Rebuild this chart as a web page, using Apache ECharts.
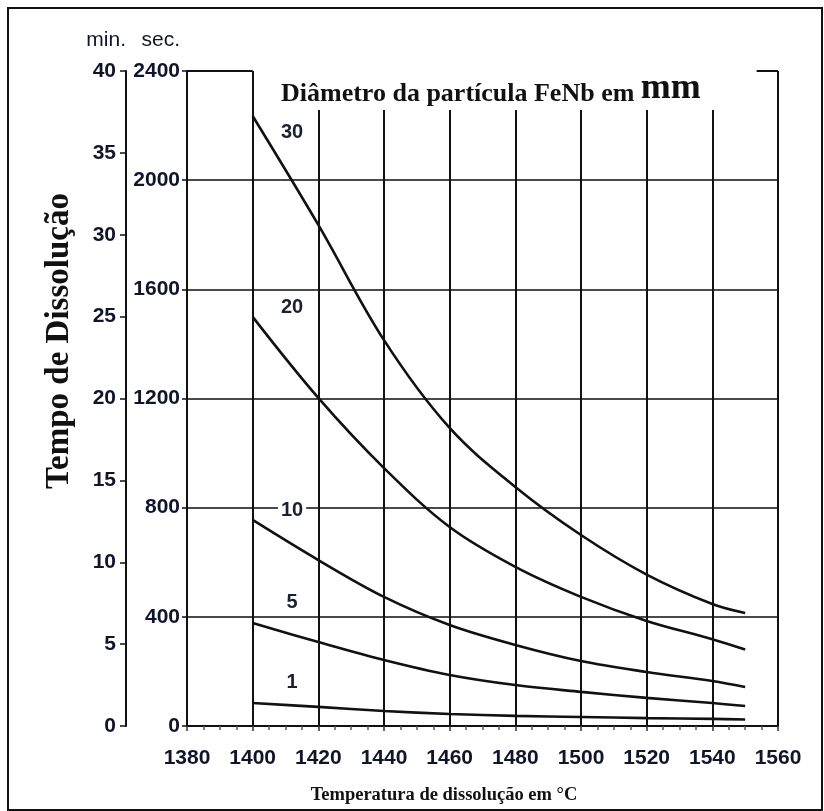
<!DOCTYPE html>
<html>
<head>
<meta charset="utf-8">
<script src="https://cdn.jsdelivr.net/npm/echarts@6/dist/echarts.min.js"></script>
<style>
  html, body { margin: 0; padding: 0; background: #fff; }
  #chart { width: 824px; height: 811px; }
</style>
</head>
<body>
<div id="chart"></div>
<script>
// Dissolution time of FeNb particles versus melt temperature
const temperatures = [1400, 1420, 1440, 1460, 1480, 1500, 1520, 1540, 1550];
const diameters = ['30', '20', '10', '5', '1'];
const time30 = [2235, 1836, 1414, 1092, 876, 700, 555, 447, 414];
const time20 = [1499, 1202, 945, 729, 583, 473, 385, 318, 280];
const time10 = [755, 608, 473, 370, 297, 238, 198, 165, 143];
const time5 = [377, 308, 242, 187, 150, 125, 103, 84, 73];
const time1 = [84, 70, 55, 44, 37, 33, 29, 26, 24];
const tempTicks = [1380, 1400, 1420, 1440, 1460, 1480, 1500, 1520, 1540, 1560];
const secTicks = [0, 400, 800, 1200, 1600, 2000, 2400];
const minTicks = [0, 5, 10, 15, 20, 25, 30, 35, 40];

const seriesTimes = [time30, time20, time10, time5, time1];

const SANS = "'Liberation Sans', Arial, sans-serif";
const SERIF = "'Liberation Serif', 'Times New Roman', serif";
const INK = '#111';
const LABEL_INK = '#10152a';

const chart = echarts.init(document.getElementById('chart'), null, { renderer: 'canvas' });

// where each diameter tag sits along its curve (temperature, seconds)
const tagTemp = 1412;
const tagSec = { '30': 2176, '20': 1532, '10': 791, '5': 451, '1': 158 };

const step = (arr) => arr[1] - arr[0];
const plain = (v) => String(v);

// vertical rules: short ones under the heading, full-height at 1400 and 1560
const ruleTop = 2257;
const yMax = secTicks[secTicks.length - 1];
const xMin = tempTicks[0];
const xMax = tempTicks[tempTicks.length - 1];
const gridRules = [];
for (let t = tempTicks[2]; t < xMax; t += step(tempTicks)) {
  gridRules.push([{ coord: [t, 0] }, { coord: [t, ruleTop] }]);
}
gridRules.push([{ coord: [tempTicks[1], 0] }, { coord: [tempTicks[1], yMax] }]);
gridRules.push([{ coord: [xMax, 0] }, { coord: [xMax, yMax] }]);
// top frame pieces on both sides of the heading
gridRules.push([{ coord: [xMin, yMax] }, { coord: [tempTicks[1], yMax] }]);
gridRules.push([{ coord: [1553.5, yMax] }, { coord: [xMax, yMax] }]);

const curveSeries = diameters.map((d, i) => ({
  name: d,
  type: 'line',
  smooth: 0.35,
  showSymbol: false,
  symbol: 'none',
  data: temperatures.map((t, k) => [t, seriesTimes[i][k]]),
  lineStyle: { color: INK, width: 2.6 },
  z: 5,
  markPoint: {
    symbol: 'circle',
    symbolSize: 0,
    silent: true,
    data: [{ coord: [tagTemp, tagSec[d]] }],
    label: {
      show: true,
      position: 'inside',
      formatter: d,
      color: '#1a1f33',
      fontFamily: SANS,
      fontWeight: 'bold',
      fontSize: 20,
      backgroundColor: '#fff',
      padding: [0, 3]
    }
  }
}));

curveSeries.push({
  name: 'rules',
  type: 'line',
  data: [],
  silent: true,
  z: 2,
  markLine: {
    silent: true,
    symbol: ['none', 'none'],
    label: { show: false },
    lineStyle: { color: INK, width: 2, type: 'solid' },
    data: gridRules
  }
});

const tickLabel = (margin) => ({
  margin,
  formatter: plain,
  color: LABEL_INK,
  fontFamily: SANS,
  fontWeight: 'bold',
  fontSize: 21
});

const option = {
  animation: false,
  backgroundColor: '#fff',
  grid: { left: 187, right: 46, top: 71, bottom: 85, containLabel: false },
  title: {
    text: '{a|Diâmetro da partícula FeNb em }{b|mm}',
    left: 276,
    top: 66,
    textStyle: {
      rich: {
        a: { fontFamily: SERIF, fontWeight: 'bold', fontSize: 26, color: INK, verticalAlign: 'bottom' },
        b: { fontFamily: SERIF, fontWeight: 'bold', fontSize: 36, color: INK, verticalAlign: 'bottom' }
      }
    }
  },
  xAxis: {
    type: 'value',
    min: xMin,
    max: xMax,
    interval: step(tempTicks),
    axisLine: { show: true, onZero: false, lineStyle: { color: INK, width: 2 } },
    axisTick: { show: true, inside: false, length: 5, lineStyle: { color: '#333', width: 1.5 } },
    minorTick: { show: true, splitNumber: 4, length: 4, lineStyle: { color: '#555', width: 1.5 } },
    splitLine: { show: false },
    axisLabel: tickLabel(22)
  },
  yAxis: [
    {
      type: 'value',
      position: 'left',
      min: secTicks[0],
      max: yMax,
      interval: step(secTicks),
      name: 'sec.',
      nameLocation: 'end',
      nameGap: 20,
      nameTextStyle: {
        align: 'right', padding: [0, 7, 0, 0],
        color: LABEL_INK, fontFamily: SANS, fontSize: 21
      },
      axisLine: { show: true, lineStyle: { color: INK, width: 2 } },
      axisTick: { show: true, inside: false, length: 5, lineStyle: { color: INK, width: 1.5 } },
      splitLine: {
        show: true, showMinLine: false, showMaxLine: false,
        lineStyle: { color: '#4a4a4a', width: 2 }
      },
      axisLabel: tickLabel(7)
    },
    {
      type: 'value',
      position: 'left',
      offset: 61,
      min: minTicks[0],
      max: minTicks[minTicks.length - 1],
      interval: step(minTicks),
      name: 'min.',
      nameLocation: 'end',
      nameGap: 20,
      nameTextStyle: {
        align: 'right', padding: [0, 0, 0, 0],
        color: LABEL_INK, fontFamily: SANS, fontSize: 21
      },
      axisLine: { show: true, lineStyle: { color: INK, width: 2 } },
      axisTick: { show: true, inside: false, length: 6, lineStyle: { color: INK, width: 1.5 } },
      splitLine: { show: false },
      axisLabel: tickLabel(10)
    }
  ],
  graphic: [
    {
      type: 'rect',
      silent: true,
      shape: { x: 8, y: 8, width: 814, height: 802 },
      style: { fill: 'none', stroke: INK, lineWidth: 2 },
      z: 100
    },
    {
      type: 'text',
      silent: true,
      x: 59,
      y: 341,
      rotation: Math.PI / 2,
      style: {
        text: 'Tempo de Dissolução',
        fontFamily: SERIF,
        fontWeight: 'bold',
        fontSize: 33,
        fill: INK,
        textAlign: 'center',
        textVerticalAlign: 'middle'
      }
    },
    {
      type: 'text',
      silent: true,
      x: 444,
      y: 795,
      style: {
        text: 'Temperatura de dissolução em °C',
        fontFamily: SERIF,
        fontWeight: 'bold',
        fontSize: 18.5,
        fill: INK,
        textAlign: 'center',
        textVerticalAlign: 'middle'
      }
    }
  ],
  series: curveSeries
};

chart.setOption(option);
</script>
</body>
</html>
